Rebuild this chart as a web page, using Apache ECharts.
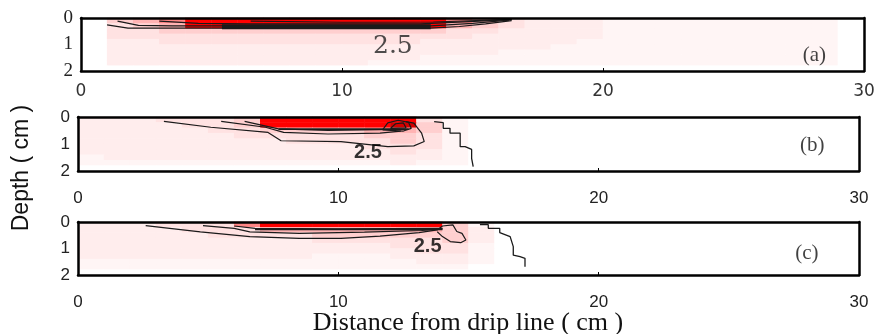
<!DOCTYPE html>
<html>
<head>
<meta charset="utf-8">
<script src="https://cdn.jsdelivr.net/npm/echarts@6/dist/echarts.min.js"></script>
<style>
	html, body { margin: 0; padding: 0; background: #fff; }
	#chart { width: 884px; height: 334px; }
</style>
</head>
<body>
<div id="chart"></div>
<script>
// tick labels
var distTicks = [0, 10, 20, 30];
var depthTicks = [0, 1, 2];

// heatmap cells: 1 cm columns, 0.2 cm rows
var distCells = [0.5, 1.5, 2.5, 3.5, 4.5, 5.5, 6.5, 7.5, 8.5, 9.5, 10.5, 11.5, 12.5, 13.5, 14.5,
	15.5, 16.5, 17.5, 18.5, 19.5, 20.5, 21.5, 22.5, 23.5, 24.5, 25.5, 26.5, 27.5, 28.5, 29.5];
var depthCells = [0.1, 0.3, 0.5, 0.7, 0.9, 1.1, 1.3, 1.5, 1.7, 1.9];

// intensity level 0..9 (rows = depthCells, columns = distCells)
var levelsA = [
	[0,4,5,6,8,8,8,8,8,8,8,8,8,8,6,5,3,2,2,2,1,1,1,1,1,1,1,1,1,0],
	[0,3,4,5,8,8,8,8,8,8,8,8,8,8,5,4,3,2,2,2,1,1,1,1,1,1,1,1,1,0],
	[0,3,3,4,4,4,4,4,4,4,4,4,4,4,3,3,2,2,2,2,1,1,1,1,1,1,1,1,1,0],
	[0,3,3,3,3,3,3,3,3,3,3,3,3,3,3,2,2,2,2,2,1,1,1,1,1,1,1,1,1,0],
	[0,2,2,3,3,3,3,3,3,3,3,3,3,2,2,2,2,2,2,1,1,1,1,1,1,1,1,1,1,0],
	[0,2,2,2,2,2,2,2,2,2,2,2,2,2,2,2,2,2,1,1,1,1,1,1,1,1,1,1,1,0],
	[0,2,2,2,2,2,2,2,2,2,2,2,2,2,2,2,1,1,1,1,1,1,1,1,1,1,1,1,1,0],
	[0,2,2,2,2,2,2,2,2,2,2,2,2,1,1,1,1,1,1,1,1,1,1,1,1,1,1,1,1,0],
	[0,2,2,2,2,2,2,2,2,2,2,1,1,1,1,1,1,1,1,1,1,1,1,1,1,1,1,1,1,0],
	[0,0,0,0,0,0,0,0,0,0,0,0,0,0,0,0,0,0,0,0,0,0,0,0,0,0,0,0,0,0]
];
var levelsB = [
	[2,2,2,3,3,3,4,8,8,8,8,8,8,3,1,0,0,0,0,0,0,0,0,0,0,0,0,0,0,0],
	[2,2,2,2,3,3,4,8,8,8,8,8,9,4,1,0,0,0,0,0,0,0,0,0,0,0,0,0,0,0],
	[2,2,2,2,2,3,3,4,4,4,4,5,5,4,1,0,0,0,0,0,0,0,0,0,0,0,0,0,0,0],
	[2,2,2,2,2,2,3,3,3,3,3,4,4,3,1,0,0,0,0,0,0,0,0,0,0,0,0,0,0,0],
	[2,2,2,2,2,2,2,2,3,3,3,3,4,3,1,0,0,0,0,0,0,0,0,0,0,0,0,0,0,0],
	[2,2,2,2,2,2,2,2,2,2,2,3,3,3,1,0,0,0,0,0,0,0,0,0,0,0,0,0,0,0],
	[2,2,2,2,2,2,2,2,2,2,2,2,3,2,1,0,0,0,0,0,0,0,0,0,0,0,0,0,0,0],
	[1,2,2,2,2,2,2,2,2,2,2,2,2,2,1,0,0,0,0,0,0,0,0,0,0,0,0,0,0,0],
	[1,1,1,1,1,1,1,1,1,1,1,1,2,1,1,0,0,0,0,0,0,0,0,0,0,0,0,0,0,0],
	[0,0,0,0,0,0,0,0,0,0,0,0,0,0,0,0,0,0,0,0,0,0,0,0,0,0,0,0,0,0]
];
var levelsC = [
	[2,2,2,3,3,3,6,8,8,8,8,8,8,8,4,1,0,0,0,0,0,0,0,0,0,0,0,0,0,0],
	[2,2,2,2,3,3,3,5,5,5,5,5,5,5,4,2,0,0,0,0,0,0,0,0,0,0,0,0,0,0],
	[2,2,2,2,2,3,3,3,3,4,4,4,4,4,4,2,0,0,0,0,0,0,0,0,0,0,0,0,0,0],
	[2,2,2,2,2,2,2,2,2,3,3,3,3,3,4,2,0,0,0,0,0,0,0,0,0,0,0,0,0,0],
	[2,2,2,2,2,2,2,2,2,2,2,2,3,3,3,1,0,0,0,0,0,0,0,0,0,0,0,0,0,0],
	[2,2,2,2,2,2,2,2,2,2,2,2,2,3,3,1,0,0,0,0,0,0,0,0,0,0,0,0,0,0],
	[2,2,2,2,2,2,2,2,2,1,1,1,2,2,2,1,0,0,0,0,0,0,0,0,0,0,0,0,0,0],
	[1,1,1,1,1,1,1,1,1,1,1,1,1,2,2,1,0,0,0,0,0,0,0,0,0,0,0,0,0,0],
	[1,1,1,1,1,1,1,1,1,1,1,1,1,1,1,0,0,0,0,0,0,0,0,0,0,0,0,0,0,0],
	[0,0,0,0,0,0,0,0,0,0,0,0,0,0,0,0,0,0,0,0,0,0,0,0,0,0,0,0,0,0]
];
var levelColors = ['#ffffff', '#fff5f5', '#ffeded', '#ffe2e2', '#ffcfcf',
	'#ffb3b3', '#ff8585', '#ff4a4a', '#ff0000', '#d40000'];

// contour lines [distance, depth]
var contoursA = [
	[[1.0,0.26],[1.8,0.38],[3.8,0.38],[13.4,0.38],[14.5,0.32],[15.5,0.22],[16.5,0.1]],
	[[1.4,0.12],[2.2,0.28],[3.5,0.3],[6.5,0.3],[13.4,0.3],[15,0.2],[16.4,0.08]],
	[[3.0,0.12],[4.5,0.2],[6.5,0.22],[13,0.22],[16.5,0.06]],
	[[6.5,0.12],[10,0.16],[13.5,0.15],[16.5,0.05]]
];
var bandA = [[5.4,0.33],[13.4,0.33]];
var contoursB = [
	[[3.3,0.16],[5.1,0.38],[7.3,0.57],[7.8,0.88],[10.1,0.91],[11.9,1.1],[12.9,1.07],[13.3,0.91],[13.2,0.6],[12.9,0.23],[12.6,0.17]],
	[[5.5,0.16],[7.2,0.38],[7.9,0.57],[9.6,0.63],[11.6,0.6],[12.4,0.52]],
	[[6.4,0.16],[7.7,0.44],[9.6,0.5],[12.2,0.46]],
	[[11.7,0.48],[11.9,0.22],[12.3,0.12],[12.7,0.2],[12.8,0.42],[12.5,0.52],[11.7,0.48]],
	[[12.0,0.42],[12.2,0.25],[12.5,0.22],[12.6,0.4],[12.0,0.42]]
];
var bandB = [[7.7,0.45],[12.7,0.45]];
var frontB = [[13.68,0.17],[14.03,0.21],[14.03,0.42],[14.29,0.42],[14.29,0.6],[14.68,0.6],[14.68,1.1],[14.87,1.1],[15.12,1.2],[15.12,1.53],[15.18,1.84]];
var contoursC = [
	[[2.6,0.14],[4.7,0.37],[6.6,0.55],[8.5,0.62],[10.1,0.62],[11.6,0.53],[13.1,0.4],[13.8,0.3],[14.0,0.15],[14.4,0.11],[14.55,0.36],[14.75,0.43],[14.9,0.68],[14.7,0.78],[14.3,0.74],[14.0,0.55],[13.8,0.37]],
	[[4.8,0.14],[6.0,0.24],[6.6,0.37],[8.5,0.43],[11,0.38],[13.2,0.32],[14,0.26]],
	[[6.0,0.15],[6.8,0.24],[10,0.26],[14,0.24]]
];
var bandC = [[6.8,0.28],[14.0,0.28]];
var frontC = [[15.44,0.1],[15.76,0.1],[15.76,0.24],[16.2,0.24],[16.2,0.4],[16.6,0.55],[16.72,0.93],[16.72,1.25],[16.98,1.31],[17.17,1.37],[17.17,1.69]];

// annotations [distance, depth]
var valueLabels = [[11.95, 1.09], [11.14, 1.33], [13.43, 0.94]];
var panelLabels = [[28.1, 1.43], [28.2, 1.06], [28.0, 1.17]];
var panelNames = ['(a)', '(b)', '(c)'];

var grids = [
	{ left: 81, top: 18, width: 783, height: 53 },
	{ left: 78, top: 117, width: 781, height: 54 },
	{ left: 78, top: 222, width: 781, height: 53 }
];
var frame = { show: true, onZero: false, lineStyle: { color: '#000', width: 2.5 } };

var chart = echarts.init(document.getElementById('chart'));

var xAxes = [], yAxes = [], series = [], heatIdx = [];
var allLevels = [levelsA, levelsB, levelsC];
var allContours = [contoursA, contoursB, contoursC];
var bands = [bandA, bandB, bandC];
var fronts = [null, frontB, frontC];

function lineSeries(i, data, width, color)
{
	return {
		type: 'line', xAxisIndex: 2 * i, yAxisIndex: 2 * i, data: data,
		symbol: 'none', silent: true, animation: false, z: 3,
		lineStyle: { color: color || '#1a1a1a', width: width }
	};
}

for (var i = 0; i < 3; i++)
{
	var first = i === 0;
	var labelFont = first
		? { fontFamily: 'DejaVu Sans', fontSize: 17, color: '#333' }
		: { fontFamily: 'Liberation Sans', fontSize: 17, color: '#222' };
	xAxes.push({
		gridIndex: i, type: 'value', min: 0, max: 30, interval: 10, position: 'bottom', z: 5,
		axisLine: frame, splitLine: { show: false },
		axisTick: { show: true, inside: true, length: 3, lineStyle: { color: '#000' } },
		axisLabel: Object.assign({ margin: first ? 12 : 19, formatter: function(v) { return distTicks.indexOf(v) >= 0 ? String(v) : ''; } }, labelFont)
	});
	xAxes.push({
		gridIndex: i, type: 'category', data: distCells, position: 'top', z: 5,
		axisLine: frame, axisTick: { show: false }, axisLabel: { show: false }, splitLine: { show: false }
	});
	yAxes.push({
		gridIndex: i, type: 'value', min: 0, max: 2, interval: 1, inverse: true, position: 'left', z: 5,
		axisLine: frame, splitLine: { show: false },
		axisTick: { show: false },
		axisLabel: Object.assign({ margin: 8, formatter: function(v) { return depthTicks.indexOf(v) >= 0 ? String(v) : ''; } },
			first ? { fontFamily: 'Liberation Serif', fontSize: 19, color: '#222' } : labelFont)
	});
	yAxes.push({
		gridIndex: i, type: 'category', data: depthCells, inverse: true, position: 'right', z: 5,
		axisLine: frame, axisTick: { show: false }, axisLabel: { show: false }, splitLine: { show: false }
	});

	var cells = [];
	allLevels[i].forEach(function(row, r) {
		row.forEach(function(v, c) { cells.push([c, r, v]); });
	});
	heatIdx.push(series.length);
	series.push({
		type: 'heatmap', xAxisIndex: 2 * i + 1, yAxisIndex: 2 * i + 1, data: cells,
		z: 1, silent: true, animation: false, progressive: 0,
		itemStyle: { borderWidth: 0 }, emphasis: { disabled: true }
	});

	allContours[i].forEach(function(c) { series.push(lineSeries(i, c, 1.2)); });
	series.push(lineSeries(i, bands[i], first ? 5 : 1.8));
	if (fronts[i]) series.push(lineSeries(i, fronts[i], 1.3));

	series.push({
		type: 'scatter', xAxisIndex: 2 * i, yAxisIndex: 2 * i, silent: true, animation: false, z: 4,
		symbolSize: 1, itemStyle: { color: 'rgba(0,0,0,0)' },
		data: [
			{ value: valueLabels[i], label: first
				? { show: true, position: 'inside', formatter: '2.5', fontFamily: 'DejaVu Serif', fontSize: 25, color: '#222' }
				: { show: true, position: 'inside', formatter: '2.5', fontFamily: 'Liberation Sans', fontWeight: 'bold', fontSize: 20, color: '#000' } },
			{ value: panelLabels[i], label: { show: true, position: 'inside', formatter: panelNames[i],
				fontFamily: 'Liberation Serif', fontSize: 21, color: '#111' } }
		]
	});
}

var pieces = levelColors.map(function(col, k) { return { value: k, color: col }; });

chart.setOption({
	animation: false,
	grid: grids,
	xAxis: xAxes,
	yAxis: yAxes,
	visualMap: { type: 'piecewise', show: false, dimension: 2, seriesIndex: heatIdx, pieces: pieces },
	series: series,
	graphic: [
		{ type: 'text', x: 22, y: 168, rotation: Math.PI / 2,
			style: { text: 'Depth ( cm )', fontFamily: 'Liberation Sans', fontSize: 23, fill: '#111', align: 'center', verticalAlign: 'middle' } },
		{ type: 'text', x: 468, y: 323,
			style: { text: 'Distance from drip line ( cm )', fontFamily: 'Liberation Serif', fontSize: 26, fill: '#111', align: 'center', verticalAlign: 'middle' } }
	]
});
</script>
</body>
</html>
